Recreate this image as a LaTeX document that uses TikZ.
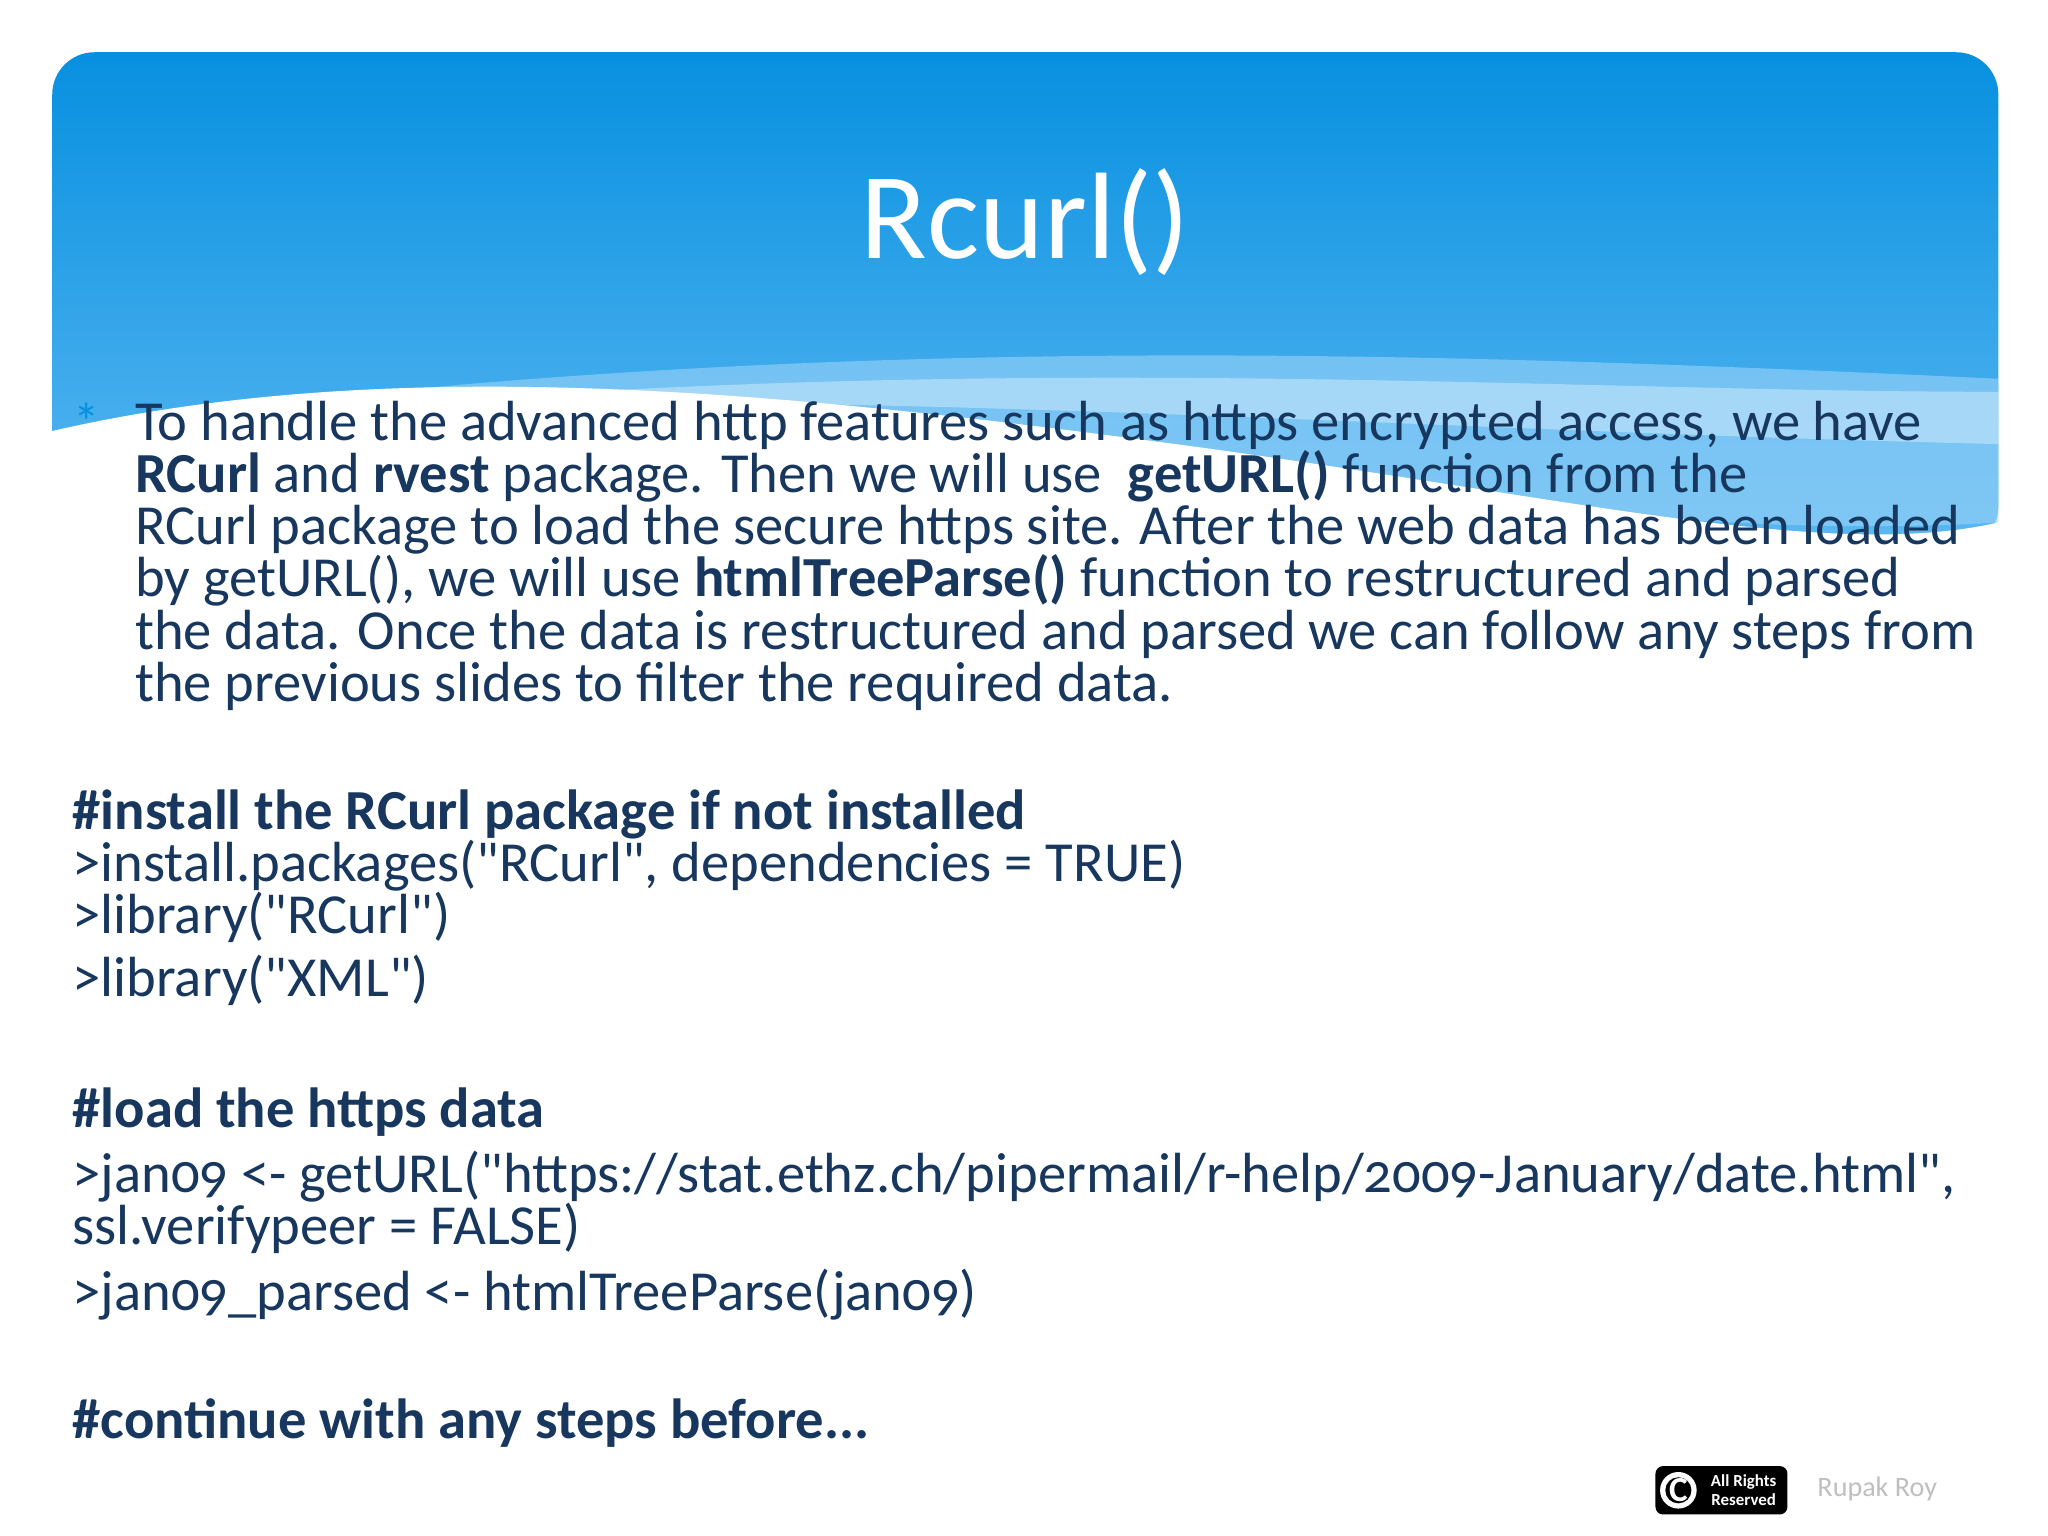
\documentclass[tikz,border=0pt]{standalone}
\usepackage{fontspec}
\setmainfont{Carlito}[Numbers=OldStyle, Ligatures=TeXOff]
\usetikzlibrary{positioning}
\definecolor{navy}{HTML}{17375E}
\definecolor{skytop}{HTML}{0790E0}
\definecolor{skybot}{HTML}{5BB8F2}
\definecolor{wavelite}{HTML}{9AD3F8}
\tikzset{
  body/.style={anchor=base west, inner sep=0pt, text=navy, font=\fontsize{16.1}{18}\selectfont},
  code/.style={body},
}
\begin{document}
\begin{tikzpicture}[x=0.013061cm, y=-0.013061cm]
  \useasboundingbox (0,0) rectangle (1568,1176);
  \fill[white] (0,0) rectangle (1568,1176);
  % HEADER
  \shade[top color=skytop, bottom color=skybot, rounded corners=12]
    (40,40) rectangle (1530,420);
  \fill[wavelite, opacity=0.6] (40,330) .. controls (600,250) and (1100,270) .. (1530,290)
    -- (1530,400) .. controls (1200,420) and (900,330) .. (400,330) -- cycle;
  \fill[white, opacity=0.35] (300,310) .. controls (800,270) and (1200,300) .. (1530,300)
    -- (1530,340) .. controls (1100,330) and (700,300) .. (300,310) -- cycle;
  \fill[white] (40,330) .. controls (300,270) and (600,300) .. (900,340)
    .. controls (1200,380) and (1400,430) .. (1530,400) -- (1530,430) -- (40,430) -- cycle;
  \node[text=white, font=\fontsize{35}{40}\selectfont] (title) at (785,170) {Rcurl()};
  % BULLET
  \node[anchor=base, text=skytop, font=\fontsize{15}{18}\selectfont] (star) at (66,337) {*};
  \node[body] (l1) at (103,337) {To handle the advanced http features such as https encrypted access, we have};
  \node[body] (l2) at (103,377) {\textbf{RCurl} and \textbf{rvest} package. Then we will use \ \textbf{getURL()} function from the};
  \node[body] (l3) at (103,417) {RCurl package to load the secure https site. After the web data has been loaded};
  \node[body] (l4) at (103,457) {by getURL(), we will use \textbf{htmlTreeParse()} function to restructured and parsed};
  \node[body] (l5) at (103,497) {the data. Once the data is restructured and parsed we can follow any steps from};
  \node[body] (l6) at (103,537) {the previous slides to filter the required data.};
  % CODE
  \node[code] (c1) at (55,635) {\textbf{\#install the RCurl package if not installed}};
  \node[code] (c2) at (55,675) {>install.packages("RCurl", dependencies = TRUE)};
  \node[code] (c3) at (55,715) {>library("RCurl")};
  \node[code] (c4) at (55,763) {>library("XML")};
  \node[code] (c5) at (55,863) {\textbf{\#load the https data}};
  \node[code] (c6) at (55,913) {>jan09 <- getURL("https://stat.ethz.ch/pipermail/r-help/2009-January/date.html",};
  \node[code] (c7) at (55,953) {ssl.verifypeer = FALSE)};
  \node[code] (c8) at (55,1003) {>jan09\_parsed <- htmlTreeParse(jan09)};
  \node[code] (c9) at (55,1101) {\textbf{\#continue with any steps before...}};
  % FOOTER
  \draw[fill=black, rounded corners=2] (1268,1123) rectangle (1368,1159);
  \fill[white] (1285,1141) circle (14);
  \fill[black] (1285,1141) circle (10);
  \node[text=white, font=\bfseries\fontsize{10}{10}\selectfont] (cc) at (1285,1141) {C};
  \node[text=white, font=\bfseries\fontsize{4.8}{5.5}\selectfont, align=center, inner sep=0pt]
    (rights) at (1335,1141) {All Rights\\Reserved};
  \node[anchor=base west, text=black!25, font=\fontsize{8}{10}\selectfont] (author) at (1382,1146) {Rupak Roy};
\end{tikzpicture}
\end{document}
